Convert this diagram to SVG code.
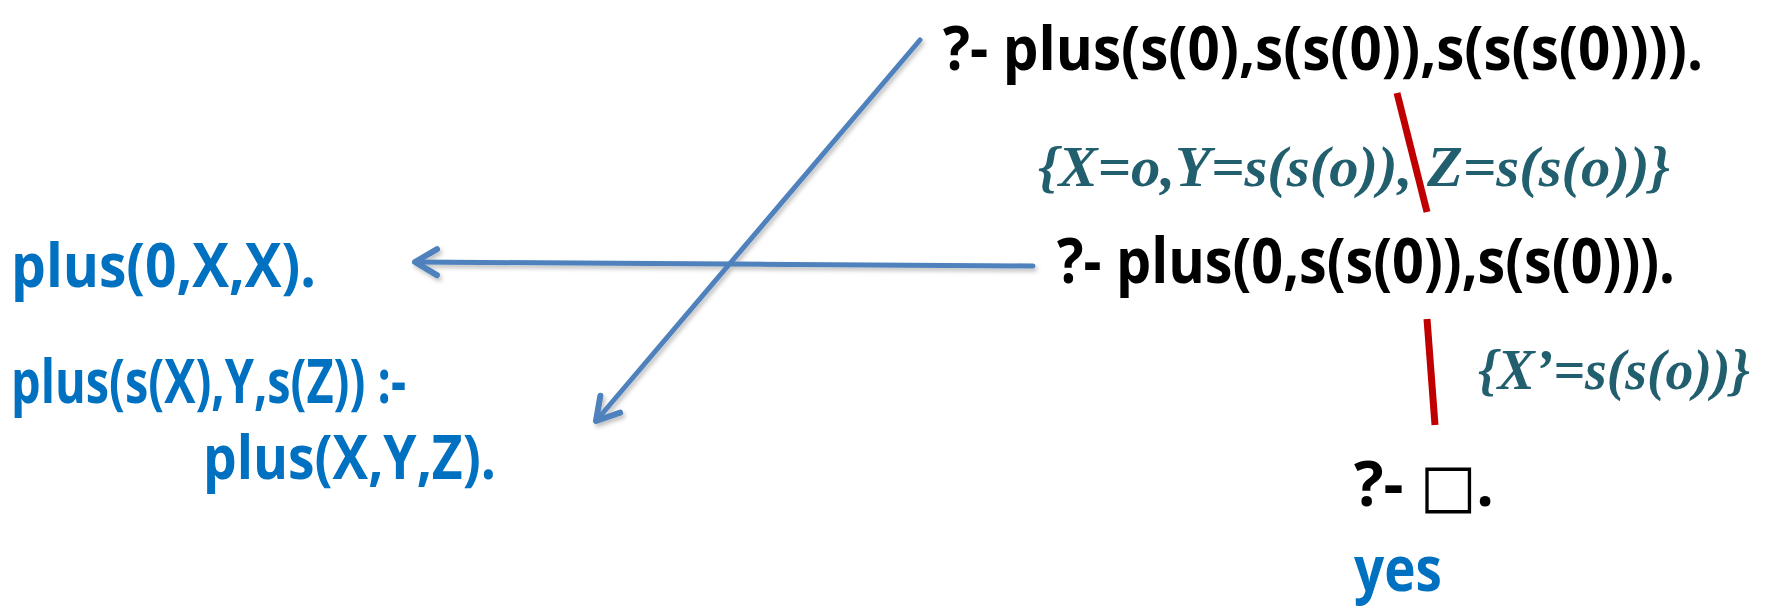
<svg xmlns="http://www.w3.org/2000/svg" width="1769" height="609" viewBox="0 0 1769 609">
  <style>
    .q { font-family: "Open Sans", Lato, "DejaVu Sans", sans-serif; font-weight: bold; font-size: 62px; fill: #000000; }
    .top { font-size: 61px; }
    .blue { fill: #0070C0; }
    .left { font-size: 60px; }
    .box { font-family: "DejaVu Sans", sans-serif; font-weight: normal; font-size: 60px; }
    .sub { font-family: "Liberation Serif", "DejaVu Serif", serif; font-style: italic; font-weight: bold; font-size: 56px; fill: #215E6E; }
    .conn { stroke: #4F81BD; stroke-width: 5; fill: none; stroke-linecap: round; }
    .red { stroke: #C00000; stroke-width: 7; fill: none; }
  </style>
  <defs>
    <marker id="arr" viewBox="-30 -20 40 40" markerWidth="40" markerHeight="40" refX="0" refY="0" orient="auto" markerUnits="userSpaceOnUse">
      <path d="M -22,-13 L 0,0 L -22,13" fill="none" stroke="#4F81BD" stroke-width="6" stroke-linecap="round" stroke-linejoin="round"/>
    </marker>
    <filter id="sh" filterUnits="userSpaceOnUse" x="0" y="0" width="1769" height="609">
      <feDropShadow dx="2" dy="3" stdDeviation="2" flood-color="#000000" flood-opacity="0.25"/>
    </filter>
  </defs>

  <g id="connectors">
    <g filter="url(#sh)">
      <line class="conn" x1="920" y1="40" x2="596" y2="421" marker-end="url(#arr)"/>
      <line class="conn" x1="1033" y1="266" x2="415" y2="262" marker-end="url(#arr)"/>
    </g>
    <line class="red" x1="1397" y1="93" x2="1427" y2="212"/>
    <line class="red" x1="1427" y1="319" x2="1435" y2="425"/>
  </g>

  <g id="query1">
    <text class="q top" x="943" y="70" textLength="760" lengthAdjust="spacingAndGlyphs">?- plus(s(0),s(s(0)),s(s(s(0)))).</text>
  </g>
  <g id="subst1">
    <text class="sub" x="1038" y="186" textLength="632" lengthAdjust="spacingAndGlyphs">{X=o,Y=s(s(o)), Z=s(s(o))}</text>
  </g>
  <g id="query2">
    <text class="q" x="1057" y="283" textLength="618" lengthAdjust="spacingAndGlyphs">?- plus(0,s(s(0)),s(s(0))).</text>
  </g>
  <g id="subst2">
    <text class="sub" x="1478" y="389" textLength="272" lengthAdjust="spacingAndGlyphs">{X’=s(s(o))}</text>
  </g>
  <g id="query3">
    <text class="q" x="1354" y="506">?- <tspan class="box">□</tspan>.</text>
  </g>
  <g id="yes">
    <text class="q blue" x="1354" y="591" textLength="88" lengthAdjust="spacingAndGlyphs">yes</text>
  </g>
  <g id="clause1">
    <text class="q blue left" x="11" y="287" textLength="305" lengthAdjust="spacingAndGlyphs">plus(0,X,X).</text>
  </g>
  <g id="clause2">
    <text class="q blue left" x="11" y="403" textLength="395" lengthAdjust="spacingAndGlyphs">plus(s(X),Y,s(Z)) :-</text>
    <text class="q blue left" x="203" y="479" textLength="293" lengthAdjust="spacingAndGlyphs">plus(X,Y,Z).</text>
  </g>
</svg>
